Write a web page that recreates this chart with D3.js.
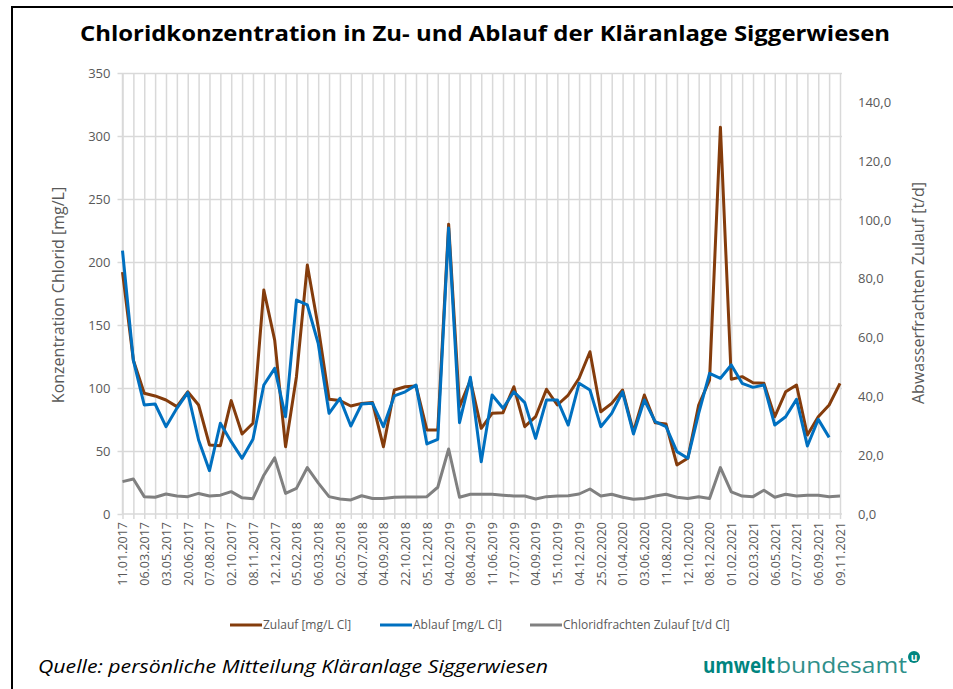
<!DOCTYPE html>
<html>
<head>
<meta charset="utf-8">
<script src="https://cdn.jsdelivr.net/npm/d3@7"></script>
<style>
  body { margin: 0; background: #fff; }
  text { font-family: "Open Sans", sans-serif; }
</style>
</head>
<body>
<svg id="chart" width="953" height="689"></svg>
<script>
// tick labels shown on the category axis (every second sample)
var tickLabels = ["11.01.2017","06.03.2017","03.05.2017","20.06.2017","07.08.2017","02.10.2017",
  "08.11.2017","12.12.2017","05.02.2018","06.03.2018","02.05.2018","04.07.2018","04.09.2018",
  "22.10.2018","05.12.2018","04.02.2019","08.04.2019","11.06.2019","17.07.2019","04.09.2019",
  "15.10.2019","04.12.2019","25.02.2020","01.04.2020","03.06.2020","11.08.2020","12.10.2020",
  "08.12.2020","01.02.2021","02.03.2021","06.05.2021","07.07.2021","06.09.2021","09.11.2021"];

// Zulauf [mg/L Cl]
var zulauf = [192,122,95.8,93.7,90.5,85.2,97,86.5,54.8,54.2,90,63.5,72,177.8,138,53.4,109,197.6,
  148.7,91,90,85.7,87.8,88.4,53.4,98.4,101,101.6,66.7,66.7,230,85.2,106,68,
  79.9,80.4,101,69.3,77.2,99,86.5,94.4,107.7,128.8,81.2,87.8,98.4,65.3,94.4,72.5,71.4,38.9,
  44.2,86.5,106.3,307,106.9,109,104.2,103.7,77.2,97,102.4,62.7,77.2,86.5,103.7];

// Ablauf [mg/L Cl]
var ablauf = [209,122,86.5,87.3,69.3,83.9,96.3,58.7,34.4,72,57.4,44.2,59.3,102.4,115.6,77.2,169.8,
  165.9,135.5,79.9,91.8,69.8,87.3,87.8,69.3,93.7,97,102.4,55.6,59.3,227,72.5,108.5,41.5,
  94.4,83.9,97,88.4,60,90.5,90.5,70.6,103.7,98.4,69.3,79.9,97,63.5,90.5,73.3,69.3,49.5,
  44.2,79.9,111.6,107.7,118.3,103.7,100.5,102.4,70.6,77.2,91,54,75.1,60.8,null];

// Chloridfrachten Zulauf [t/d Cl]
var frachten = [11,11.9,5.9,5.7,6.8,6.1,5.9,7,6.1,6.4,7.6,5.5,5.2,13.2,19.1,7,8.7,15.8,10.6,5.9,
  5.1,4.8,6.2,5.3,5.3,5.7,5.8,5.8,5.9,9.1,22.1,5.7,6.7,6.7,
  6.7,6.4,6.1,6.1,5.1,5.9,6.1,6.2,6.8,8.5,6.1,6.7,5.7,5,5.3,6.1,6.7,5.7,5.3,5.9,5.3,15.8,
  7.5,6.1,5.9,8.1,5.7,6.7,6.1,6.4,6.4,5.9,6.1];

var leftTicks = [0,50,100,150,200,250,300,350];
var rightTicks = [0,20,40,60,80,100,120,140];

var series = [
  {name: "Zulauf [mg/L Cl]", values: zulauf, axis: "left", color: "#843c0c"},
  {name: "Ablauf [mg/L Cl]", values: ablauf, axis: "left", color: "#0070c0"},
  {name: "Chloridfrachten Zulauf [t/d Cl]", values: frachten, axis: "right", color: "#808080"}
];

var svg = d3.select("#chart");
var plot = {left: 122.5, right: 840, top: 73, bottom: 514};
var gridColor = "#d9d9d9", textColor = "#595959";

// frame
svg.append("path")
  .attr("d", "M12,689V7H953")
  .attr("fill", "none")
  .attr("stroke", "#000")
  .attr("stroke-width", 2);

var idx = d3.range(zulauf.length);
var x = d3.scalePoint().domain(idx).range([plot.left, plot.right]);
var yL = d3.scaleLinear().domain([0, 350]).range([plot.bottom, plot.top]);
var yR = d3.scaleLinear().domain([0, 150]).range([plot.bottom, plot.top]);

// horizontal gridlines
svg.append("g")
  .attr("transform", "translate(" + plot.left + ",0)")
  .call(d3.axisRight(yL).tickValues(leftTicks.slice(1)).tickFormat("").tickSize(842 - plot.left))
  .call(function(g) { g.select(".domain").remove(); })
  .selectAll("line").attr("stroke", gridColor).attr("stroke-width", 1.5);

// vertical gridlines
svg.append("g")
  .attr("transform", "translate(0," + plot.top + ")")
  .call(d3.axisBottom(x).tickFormat("").tickSize(plot.bottom - plot.top))
  .call(function(g) { g.select(".domain").remove(); })
  .selectAll("line").attr("stroke", gridColor).attr("stroke-width", 1.5);

// left axis
var gL = svg.append("g")
  .attr("transform", "translate(" + plot.left + ",0)")
  .call(d3.axisLeft(yL).tickValues(leftTicks).tickSize(5).tickPadding(7));
gL.select(".domain").attr("stroke", gridColor).attr("stroke-width", 1.5).attr("d", "M0," + plot.bottom + "V" + plot.top);
gL.selectAll("line").attr("stroke", gridColor).attr("stroke-width", 1.5);
gL.selectAll("text").attr("fill", textColor).style("font-size", "13px");

// right axis (labels only)
var gR = svg.append("g")
  .attr("transform", "translate(842,0)")
  .call(d3.axisRight(yR).tickValues(rightTicks).tickSize(0).tickPadding(16)
    .tickFormat(function(d) { return d3.format(".1f")(d).replace(".", ","); }));
gR.select(".domain").remove();
gR.selectAll("text").attr("fill", textColor).style("font-size", "13px");

// bottom axis
var gB = svg.append("g")
  .attr("transform", "translate(0," + plot.bottom + ")")
  .call(d3.axisBottom(x).tickSize(5).tickFormat(function(d) {
    return d % 2 === 0 ? tickLabels[d / 2] : "";
  }));
gB.select(".domain").attr("stroke", gridColor).attr("stroke-width", 1.5)
  .attr("d", "M" + plot.left + ",0H842");
gB.selectAll("line").attr("stroke", gridColor).attr("stroke-width", 1.5);
gB.selectAll("text")
  .attr("fill", textColor)
  .style("font-size", "12.5px")
  .attr("transform", "rotate(-90)")
  .attr("x", -8).attr("y", 0).attr("dy", "0.35em")
  .style("text-anchor", "end");

// lines
series.forEach(function(s) {
  var yy = s.axis === "left" ? yL : yR;
  var line = d3.line()
    .defined(function(d) { return d != null; })
    .x(function(d, i) { return x(i); })
    .y(function(d) { return yy(d); });
  svg.append("path")
    .datum(s.values)
    .attr("fill", "none")
    .attr("stroke", s.color)
    .attr("stroke-width", 3)
    .attr("stroke-linejoin", "round")
    .attr("d", line);
});

// axis titles
svg.append("text")
  .attr("transform", "translate(64,295) rotate(-90)")
  .attr("text-anchor", "middle")
  .attr("fill", textColor)
  .style("font-size", "16px")
  .text("Konzentration Chlorid [mg/L]");

svg.append("text")
  .attr("transform", "translate(924,293) rotate(-90)")
  .attr("text-anchor", "middle")
  .attr("fill", textColor)
  .style("font-size", "16px")
  .text("Abwasserfrachten Zulauf [t/d]");

// title
svg.append("text")
  .attr("x", 485).attr("y", 41)
  .attr("text-anchor", "middle")
  .style("font-size", "22px")
  .style("font-weight", "bold")
  .attr("textLength", 810)
  .attr("lengthAdjust", "spacingAndGlyphs")
  .text("Chloridkonzentration in Zu- und Ablauf der Kläranlage Siggerwiesen");

// legend
var legendX = [230, 380, 530];
var legend = svg.append("g").attr("transform", "translate(0,625)");
series.forEach(function(s, i) {
  legend.append("line")
    .attr("x1", legendX[i]).attr("x2", legendX[i] + 32)
    .attr("stroke", s.color).attr("stroke-width", 3);
  legend.append("text")
    .attr("x", legendX[i] + 33).attr("dy", "0.35em")
    .attr("fill", textColor)
    .style("font-size", "12px")
    .text(s.name);
});

// footer
svg.append("text")
  .attr("x", 38).attr("y", 673)
  .style("font-size", "19px")
  .style("font-style", "italic")
  .attr("textLength", 510)
  .attr("lengthAdjust", "spacingAndGlyphs")
  .text("Quelle: persönliche Mitteilung Kläranlage Siggerwiesen");

svg.append("text")
  .attr("x", 703).attr("y", 673)
  .attr("fill", "#00857f")
  .style("font-size", "21px")
  .style("font-weight", "bold")
  .attr("textLength", 72)
  .attr("lengthAdjust", "spacingAndGlyphs")
  .text("umwelt");
svg.append("text")
  .attr("x", 776).attr("y", 673)
  .attr("fill", "#2f8f8a")
  .style("font-size", "21px")
  .style("font-family", "'DejaVu Sans ExtraLight', 'Open Sans', sans-serif")
  .attr("textLength", 131)
  .attr("lengthAdjust", "spacingAndGlyphs")
  .text("bundesamt");

svg.append("circle").attr("cx", 914).attr("cy", 657).attr("r", 6).attr("fill", "#00857f");
svg.append("text")
  .attr("x", 914).attr("y", 660.5)
  .attr("text-anchor", "middle")
  .attr("fill", "#fff")
  .style("font-size", "10px")
  .style("font-weight", "bold")
  .text("u");
</script>
</body>
</html>
